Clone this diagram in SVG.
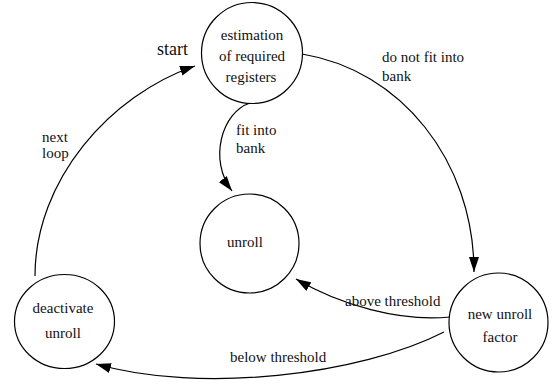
<svg xmlns="http://www.w3.org/2000/svg" width="552" height="385" viewBox="0 0 552 385">
<style>
.node{fill:#fff;stroke:#000;stroke-width:1.2}
.c{text-anchor:middle}
.e{fill:none;stroke:#000;stroke-width:1.2;marker-end:url(#ah)}
</style>
<defs>
<marker id="ah" markerUnits="userSpaceOnUse" markerWidth="16" markerHeight="10" refX="15" refY="5" orient="auto">
<path d="M0,0 L15,5 L0,10 z" fill="#000"/>
</marker>
</defs>
<g id="connectors">
<path class="e" d="M35,276 C35,180 110,95 195,66"/>
<path class="e" d="M302,54 C400,70 474,160 474,272"/>
<path class="e" d="M250,103 C222,112 208,160 232,191"/>
<path class="e" d="M450,317 C400,322 340,305 296,279"/>
<path class="e" d="M444,332 C360,375 200,394 96,364"/>
</g>
<g id="labels" font-family="'Liberation Serif', 'Times New Roman', serif" font-size="15" fill="#111">
<text x="157" y="55" font-size="18">start</text>
<text x="42" y="142">next</text>
<text x="42" y="158">loop</text>
<text x="382" y="62">do not fit into</text>
<text x="382" y="81">bank</text>
<text x="236" y="135">fit into</text>
<text x="236" y="153">bank</text>
<text x="345" y="306">above threshold</text>
<text x="230" y="362">below threshold</text>
</g>
<g id="n-estimation" font-family="'Liberation Serif', 'Times New Roman', serif" font-size="15" fill="#111">
<circle class="node" cx="252" cy="53" r="50.5"/>
<text class="c" x="252" y="40">estimation</text>
<text class="c" x="252" y="61">of required</text>
<text class="c" x="251" y="82">registers</text>
</g>
<g id="n-unroll" font-family="'Liberation Serif', 'Times New Roman', serif" font-size="15" fill="#111">
<circle class="node" cx="249.5" cy="243.5" r="49.5"/>
<text class="c" x="245" y="247">unroll</text>
</g>
<g id="n-deactivate" font-family="'Liberation Serif', 'Times New Roman', serif" font-size="15" fill="#111">
<ellipse class="node" cx="64.5" cy="321.5" rx="50" ry="47"/>
<text class="c" x="63" y="313">deactivate</text>
<text class="c" x="63" y="338">unroll</text>
</g>
<g id="n-newunroll" font-family="'Liberation Serif', 'Times New Roman', serif" font-size="15" fill="#111">
<circle class="node" cx="498.5" cy="322.5" r="49.5"/>
<text class="c" x="500" y="319">new unroll</text>
<text class="c" x="500" y="342">factor</text>
</g>
</svg>
